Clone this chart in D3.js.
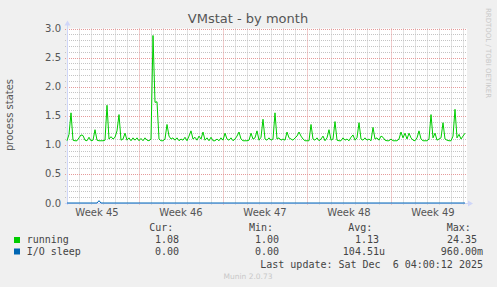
<!DOCTYPE html>
<html><head><meta charset="utf-8">
<script src="https://cdn.jsdelivr.net/npm/d3@7"></script>
<style>
html,body{margin:0;padding:0;background:#F0F0F0;}
svg{display:block;}
text{font-family:"DejaVu Sans",sans-serif;}
.mono{font-family:"DejaVu Sans Mono",monospace;white-space:pre;}
</style></head>
<body>
<svg id="chart" width="497" height="287"></svg>
<script>
// ---- data ----
const startTime = "2025-11-04T00:00:00Z";
const endTime = "2025-12-07T08:00:00Z";
const stepHours = 4;
const running = [
 1.07,1.18,1.55,1.08,1.07,1.07,1.12,1.17,1.16,1.08,
 1.07,1.13,1.07,1.08,1.26,1.08,1.07,1.07,1.07,1.08,
 1.68,1.10,1.14,1.10,1.13,1.24,1.52,1.08,1.10,1.20,
 1.08,1.12,1.07,1.12,1.08,1.12,1.07,1.11,1.07,1.12,
 1.08,1.07,1.10,2.88,1.73,1.74,1.10,1.07,1.07,1.10,
 1.35,1.15,1.10,1.12,1.08,1.12,1.07,1.10,1.08,1.13,
 1.07,1.15,1.24,1.10,1.13,1.08,1.15,1.10,1.22,1.08,
 1.12,1.07,1.13,1.07,1.07,1.10,1.07,1.12,1.08,1.20,
 1.10,1.08,1.12,1.07,1.10,1.15,1.22,1.10,1.07,1.07,
 1.07,1.08,1.20,1.10,1.12,1.24,1.08,1.13,1.44,1.10,
 1.08,1.12,1.08,1.10,1.55,1.10,1.12,1.08,1.10,1.08,
 1.22,1.12,1.10,1.08,1.12,1.15,1.22,1.15,1.10,1.07,
 1.07,1.07,1.35,1.10,1.08,1.12,1.07,1.10,1.15,1.07,
 1.12,1.26,1.08,1.10,1.40,1.08,1.07,1.07,1.12,1.08,
 1.10,1.07,1.13,1.17,1.08,1.12,1.38,1.10,1.08,1.12,
 1.08,1.10,1.07,1.30,1.10,1.12,1.08,1.15,1.13,1.08,
 1.07,1.07,1.10,1.07,1.07,1.07,1.10,1.22,1.12,1.20,
 1.10,1.20,1.12,1.08,1.07,1.12,1.24,1.10,1.07,1.07,
 1.07,1.10,1.52,1.12,1.20,1.08,1.10,1.12,1.38,1.10,
 1.08,1.07,1.07,1.15,1.61,1.12,1.18,1.10,1.15,1.20
];
const ioSleep = running.map(() => 0);
ioSleep[16] = 0.04;

const weekStarts = ["2025-11-03T00:00:00Z","2025-11-10T00:00:00Z","2025-11-17T00:00:00Z","2025-11-24T00:00:00Z","2025-12-01T00:00:00Z"];
const weekLabels = ["Week 45","Week 46","Week 47","Week 48","Week 49"];
const yTicks = [0,0.5,1.0,1.5,2.0,2.5,3.0];

const seriesNames = ["running","I/O sleep"];
const seriesColors = ["#00CC00","#0066B3"];
const curVals = ["1.08 ","0.00 "];
const minVals = ["1.00 ","0.00 "];
const avgVals = ["1.13 ","104.51u"];
const maxVals = ["24.35 ","960.00m"];

const titleText = "VMstat - by month";
const yLabel = "process states";
const lastUpdate = "Last update: Sat Dec  6 04:00:12 2025";
const footer = "Munin 2.0.73";
const watermark = "RRDTOOL / TOBI OETIKER";

// ---- chart ----
const svg = d3.select("#chart");
const L = 67, R = 467, T = 28.5, B = 203;
const t0 = new Date(startTime), t1 = new Date(endTime);
const x = d3.scaleUtc().domain([t0, t1]).range([L, R]);
const y = d3.scaleLinear().domain([0, 3]).range([B, T]);
const H = 3600 * 1000;
const times = running.map((_, i) => new Date(t0.getTime() + i * stepHours * H));

svg.append("rect").attr("x", L).attr("y", T).attr("width", R - L).attr("height", B - T).attr("fill", "#fff");

const minorColor = "#c4c4c4", majorColor = "#e59a9a";
const g = svg.append("g");
d3.range(1, 31).forEach(k => {
  const v = k / 10;
  if (k % 5 === 0) return;
  g.append("line").attr("x1", L - 2).attr("x2", R).attr("y1", Math.round(y(v)) + 0.5).attr("y2", Math.round(y(v)) + 0.5)
    .attr("stroke", minorColor).attr("stroke-dasharray", "1,1");
});
const days = d3.utcDay.range(t0, t1);
days.forEach(d => {
  if (d.getUTCDay() === 1) return;
  const xx = Math.round(x(d)) + 0.5;
  if (xx <= L + 1) return;
  g.append("line").attr("x1", xx).attr("x2", xx).attr("y1", T).attr("y2", B + 2)
    .attr("stroke", minorColor).attr("stroke-dasharray", "1,1");
});
yTicks.forEach(v => {
  if (v === 0) return;
  g.append("line").attr("x1", L - 2).attr("x2", R).attr("y1", Math.round(y(v)) + 0.5).attr("y2", Math.round(y(v)) + 0.5)
    .attr("stroke", majorColor).attr("stroke-dasharray", "1,1");
});
weekStarts.forEach(w => {
  const xx = Math.round(x(new Date(w))) + 0.5;
  if (xx <= L + 1) return;
  g.append("line").attr("x1", xx).attr("x2", xx).attr("y1", T).attr("y2", B + 2)
    .attr("stroke", majorColor).attr("stroke-dasharray", "1,1");
});

// axes
const axisColor = "#CFD6F8";
svg.append("line").attr("x1", L + 0.5).attr("x2", L + 0.5).attr("y1", B + 2).attr("y2", T - 4).attr("stroke", axisColor);
svg.append("line").attr("x1", L - 2).attr("x2", R + 2).attr("y1", B + 0.5).attr("y2", B + 0.5).attr("stroke", axisColor);
svg.append("path").attr("d", `M${L - 2.5},${T - 3} L${L + 3.5},${T - 3} L${L + 0.5},${T - 8} Z`).attr("fill", axisColor);
svg.append("path").attr("d", `M${R + 1},${B - 2.5} L${R + 1},${B + 3.5} L${R + 6},${B + 0.5} Z`).attr("fill", axisColor);

yTicks.forEach(v => {
  svg.append("text").attr("x", 61).attr("y", y(v) + 3.5).attr("text-anchor", "end")
    .attr("font-size", 10).attr("fill", "#555").text(v.toFixed(1));
});
weekStarts.forEach((w, i) => {
  const mid = new Date(new Date(w).getTime() + 3.5 * 24 * H);
  svg.append("text").attr("x", x(mid)).attr("y", 216).attr("text-anchor", "middle")
    .attr("font-size", 10).attr("fill", "#555").text(weekLabels[i]);
});

// series
const line = d3.line().x((d, i) => x(times[i])).y(d => y(d));
svg.append("path").datum(ioSleep).attr("d", line).attr("fill", "none").attr("stroke", seriesColors[1]).attr("stroke-width", 1);
svg.append("path").datum(running).attr("d", line).attr("fill", "none").attr("stroke", seriesColors[0]).attr("stroke-width", 1);

svg.append("text").attr("x", 248).attr("y", 23).attr("text-anchor", "middle").attr("font-size", 13).attr("fill", "#555").text(titleText);
svg.append("text").attr("transform", "translate(13,115) rotate(-90)").attr("text-anchor", "middle")
  .attr("font-size", 10).attr("fill", "#555").text(yLabel);
svg.append("text").attr("transform", "translate(486,53) rotate(90)").attr("text-anchor", "middle")
  .attr("font-size", 7).attr("fill", "#c8c8c8").text(watermark);

// legend
const hdrs = [["Cur:", 149.3], ["Min:", 249], ["Avg:", 348.3], ["Max:", 446.7]];
hdrs.forEach(h => svg.append("text").attr("class", "mono").attr("x", h[1]).attr("y", 231).attr("font-size", 10).attr("fill", "#444").text(h[0]));
const rowsY = [243, 254.5];
const colEdges = [185, 285, 385, 483];
seriesNames.forEach((n, i) => {
  svg.append("rect").attr("x", 14).attr("y", rowsY[i] - 6).attr("width", 6).attr("height", 6).attr("fill", seriesColors[i]);
  svg.append("text").attr("class", "mono").attr("x", 26.7).attr("y", rowsY[i]).attr("font-size", 10).attr("fill", "#444").text(n);
  [curVals, minVals, avgVals, maxVals].forEach((arr, j) => {
    svg.append("text").attr("class", "mono").attr("x", colEdges[j]).attr("y", rowsY[i]).attr("text-anchor", "end")
      .attr("font-size", 10).attr("fill", "#444").text(arr[i]);
  });
});
svg.append("text").attr("class", "mono").attr("x", 483).attr("y", 267.5).attr("text-anchor", "end")
  .attr("font-size", 10).attr("fill", "#444").text(lastUpdate);
svg.append("text").attr("x", 248).attr("y", 278.5).attr("text-anchor", "middle")
  .attr("font-size", 7.5).attr("fill", "#c8c8c8").text(footer);
</script>
</body></html>
